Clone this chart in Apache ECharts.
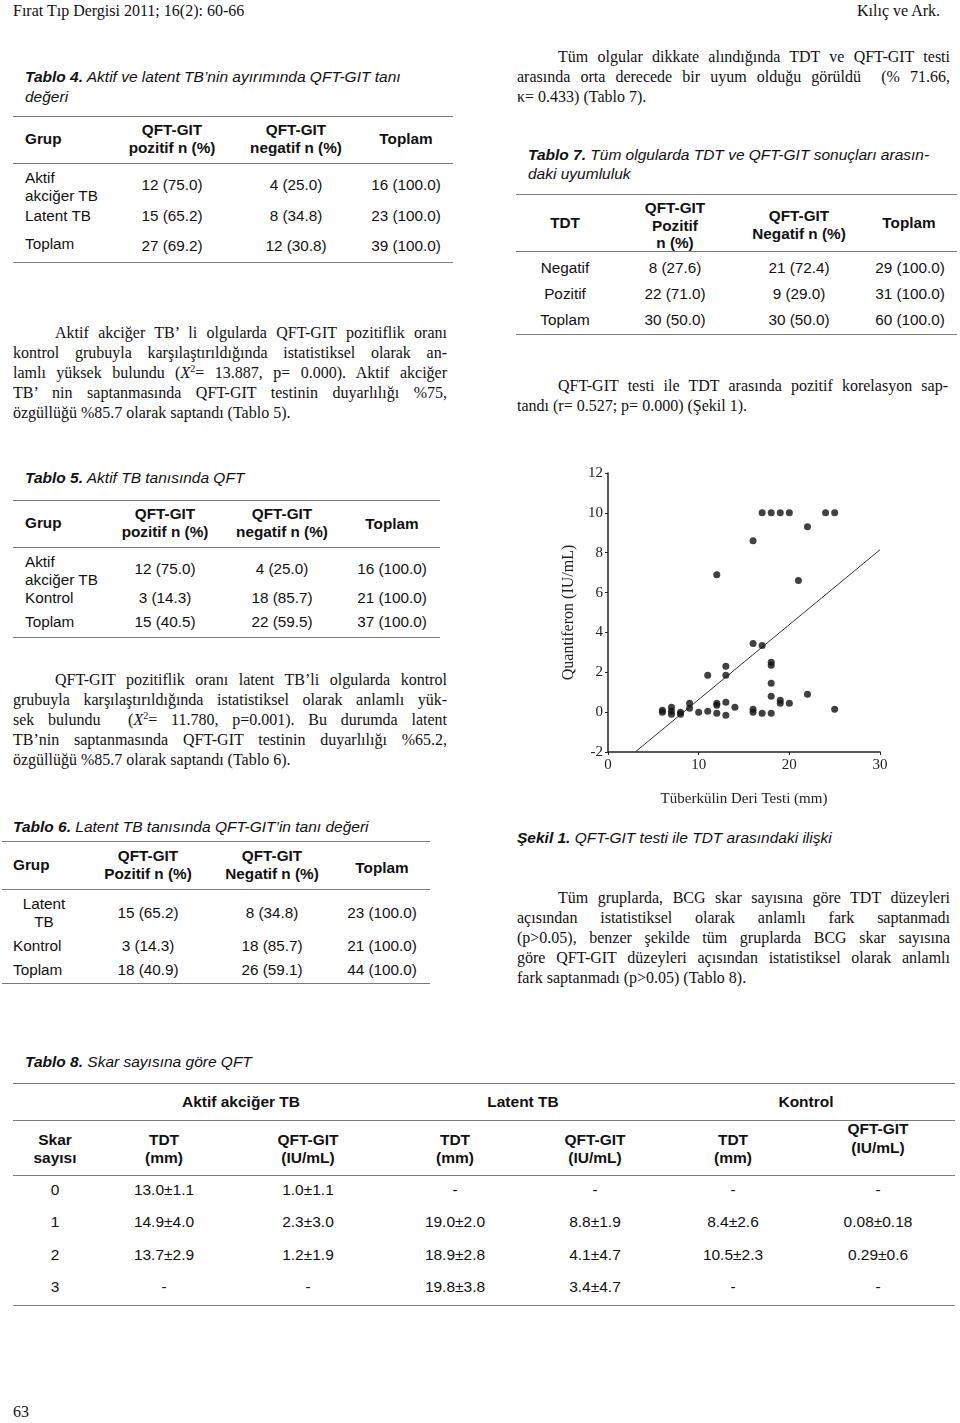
<!DOCTYPE html>
<html>
<head>
<meta charset="utf-8">
<script src="https://cdn.jsdelivr.net/npm/echarts/dist/echarts.min.js"></script>
<style>
  body { margin: 0; background: #fff; }
  #page { position: relative; width: 960px; height: 1423px; background: #fff; overflow: hidden; color: #111; }
  .t { position: absolute; white-space: nowrap; line-height: 1; transform: translateY(-50%); }
  .sans { font-family: "Liberation Sans", Arial, sans-serif; font-size: 15.3px; }
  .cap { font-family: "Liberation Sans", Arial, sans-serif; font-size: 15.5px; font-style: italic; }
  .t8 { font-family: "Liberation Sans", Arial, sans-serif; font-size: 15.5px; }
  .serif { font-family: "Liberation Serif", "Times New Roman", serif; font-size: 16px; }
  .b { font-weight: bold; }
  .rule { position: absolute; height: 0; border-top: 1.5px solid #7a7a7a; }
  .ln { position: absolute; font-family: "Liberation Serif", "Times New Roman", serif; font-size: 16px;
        line-height: 20px; height: 20px; white-space: nowrap; overflow: visible; text-align: justify; }
  .ln.j { text-align-last: justify; white-space: normal; }
  .sup { font-size: 10px; vertical-align: 6px; line-height: 0; }
  #chart { position: absolute; left: 540px; top: 455px; width: 420px; height: 360px; }
</style>
</head>
<body>
<div id="page">
  <div id="chart"></div>
</div>
<script>
// Şekil 1: TDT (mm) vs QFT-GIT (IU/mL)
const tdtMm = [6, 6, 7, 7, 7, 8, 8, 9, 9, 10, 11, 11, 12, 12, 12, 12, 13, 13, 13, 13, 14,
  16, 16, 16, 16, 17, 17, 17, 18, 18, 18, 18, 18, 18, 19, 19, 19, 20, 20, 21, 22, 22, 24, 25, 25]
const qftIU = [0.1, 0.0, 0.25, 0.05, -0.1, 0.0, -0.1, 0.45, 0.2, 0.0, 0.05, 1.85, 0.45, 0.35, -0.05, 6.9, 0.5, -0.15, 2.3, 1.85, 0.25,
  0.15, 0.0, 3.45, 8.6, -0.05, 3.35, 10, -0.05, 0.8, 1.45, 2.35, 2.5, 10, 0.6, 0.45, 10, 0.45, 10, 6.6, 0.9, 9.3, 10, 10, 0.15]
const fitX = [3, 30]
const fitY = [-2, 8.15]
const yTicks = [-2, 0, 2, 4, 6, 8, 10, 12]
const xTicks = [0, 10, 20, 30]

const page = document.getElementById('page')

function T(html, x, y, cls, center) {
  const e = document.createElement('div')
  e.className = 't ' + (cls || '')
  e.innerHTML = html
  e.style.left = x + 'px'
  e.style.top = y + 'px'
  if (center) e.style.transform = 'translate(-50%,-50%)'
  page.appendChild(e)
}
function R(x1, x2, y) {
  const e = document.createElement('div')
  e.className = 'rule'
  e.style.left = x1 + 'px'
  e.style.width = (x2 - x1) + 'px'
  e.style.top = y + 'px'
  page.appendChild(e)
}
// paragraph: each line placed by hand so the breaks match the page
function P(lines, x, w, y0, indent) {
  lines.forEach((s, k) => {
    const e = document.createElement('div')
    e.className = 'ln' + (k < lines.length - 1 ? ' j' : '')
    const ind = k === 0 ? indent : 0
    e.style.left = (x + ind) + 'px'
    e.style.width = (w - ind) + 'px'
    e.style.top = (y0 + k * 20 - 10) + 'px'
    e.innerHTML = s
    page.appendChild(e)
  })
}
const X2 = '<i>X</i><span class="sup">2</span>'

// header
T('Fırat Tıp Dergisi 2011; 16(2): 60-66', 13, 11, 'serif')
T('Kılıç ve Ark.', 857, 11, 'serif')
T('63', 13, 1412, 'serif')

// Tablo 4
T('<b>Tablo 4.</b> Aktif ve latent TB’nin ayırımında QFT-GIT tanı', 25, 77, 'cap')
T('değeri', 25, 97, 'cap')
R(13, 453, 116); R(13, 453, 163); R(13, 453, 262)
T('Grup', 25, 139, 'sans b')
T('QFT-GIT', 172, 130, 'sans b', 1); T('pozitif n (%)', 172, 148, 'sans b', 1)
T('QFT-GIT', 296, 130, 'sans b', 1); T('negatif n (%)', 296, 148, 'sans b', 1)
T('Toplam', 406, 139, 'sans b', 1)
T('Aktif', 25, 178, 'sans'); T('akciğer TB', 25, 196, 'sans')
T('12 (75.0)', 172, 185, 'sans', 1); T('4 (25.0)', 296, 185, 'sans', 1); T('16 (100.0)', 406, 185, 'sans', 1)
T('Latent TB', 25, 216, 'sans')
T('15 (65.2)', 172, 216, 'sans', 1); T('8 (34.8)', 296, 216, 'sans', 1); T('23 (100.0)', 406, 216, 'sans', 1)
T('Toplam', 25, 244, 'sans')
T('27 (69.2)', 172, 246, 'sans', 1); T('12 (30.8)', 296, 246, 'sans', 1); T('39 (100.0)', 406, 246, 'sans', 1)

P(['Aktif akciğer TB’ li olgularda QFT-GIT pozitiflik oranı',
   'kontrol grubuyla karşılaştırıldığında istatistiksel olarak an-',
   'lamlı yüksek bulundu (' + X2 + '= 13.887, p= 0.000). Aktif akciğer',
   'TB’ nin saptanmasında QFT-GIT testinin duyarlılığı %75,',
   'özgüllüğü %85.7 olarak saptandı (Tablo 5).'], 13, 434, 333, 42)

// Tablo 5
T('<b>Tablo 5.</b> Aktif TB tanısında QFT', 25, 478, 'cap')
R(13, 440, 500); R(13, 440, 547); R(13, 440, 637)
T('Grup', 25, 523, 'sans b')
T('QFT-GIT', 165, 514, 'sans b', 1); T('pozitif n (%)', 165, 532, 'sans b', 1)
T('QFT-GIT', 282, 514, 'sans b', 1); T('negatif n (%)', 282, 532, 'sans b', 1)
T('Toplam', 392, 524, 'sans b', 1)
T('Aktif', 25, 562, 'sans'); T('akciğer TB', 25, 580, 'sans')
T('12 (75.0)', 165, 569, 'sans', 1); T('4 (25.0)', 282, 569, 'sans', 1); T('16 (100.0)', 392, 569, 'sans', 1)
T('Kontrol', 25, 598, 'sans')
T('3 (14.3)', 165, 598, 'sans', 1); T('18 (85.7)', 282, 598, 'sans', 1); T('21 (100.0)', 392, 598, 'sans', 1)
T('Toplam', 25, 622, 'sans')
T('15 (40.5)', 165, 622, 'sans', 1); T('22 (59.5)', 282, 622, 'sans', 1); T('37 (100.0)', 392, 622, 'sans', 1)

P(['QFT-GIT pozitiflik oranı latent TB’li olgularda kontrol',
   'grubuyla karşılaştırıldığında istatistiksel olarak anlamlı yük-',
   'sek bulundu &nbsp;(' + X2 + '= 11.780, p=0.001). Bu durumda latent',
   'TB’nin saptanmasında QFT-GIT testinin duyarlılığı %65.2,',
   'özgüllüğü %85.7 olarak saptandı (Tablo 6).'], 13, 434, 680, 42)

// Tablo 6
T('<b>Tablo 6.</b> Latent TB tanısında QFT-GIT’in tanı değeri', 13, 827, 'cap')
R(2, 430, 841); R(2, 430, 889); R(2, 430, 983)
T('Grup', 13, 865, 'sans b')
T('QFT-GIT', 148, 856, 'sans b', 1); T('Pozitif n (%)', 148, 874, 'sans b', 1)
T('QFT-GIT', 272, 856, 'sans b', 1); T('Negatif n (%)', 272, 874, 'sans b', 1)
T('Toplam', 382, 868, 'sans b', 1)
T('Latent', 44, 904, 'sans', 1); T('TB', 44, 922, 'sans', 1)
T('15 (65.2)', 148, 913, 'sans', 1); T('8 (34.8)', 272, 913, 'sans', 1); T('23 (100.0)', 382, 913, 'sans', 1)
T('Kontrol', 13, 946, 'sans')
T('3 (14.3)', 148, 946, 'sans', 1); T('18 (85.7)', 272, 946, 'sans', 1); T('21 (100.0)', 382, 946, 'sans', 1)
T('Toplam', 13, 970, 'sans')
T('18 (40.9)', 148, 970, 'sans', 1); T('26 (59.1)', 272, 970, 'sans', 1); T('44 (100.0)', 382, 970, 'sans', 1)

// right column
P(['Tüm olgular dikkate alındığında TDT ve QFT-GIT testi',
   'arasında orta derecede bir uyum olduğu görüldü &nbsp;(% 71.66,',
   'κ= 0.433) (Tablo 7).'], 517, 433, 57, 41)

// Tablo 7
T('<b>Tablo 7.</b> Tüm olgularda TDT ve QFT-GIT sonuçları arasın-', 528, 155, 'cap')
T('daki uyumluluk', 528, 174, 'cap')
R(516, 957, 194); R(516, 957, 251); R(516, 957, 334)
T('TDT', 565, 223, 'sans b', 1)
T('QFT-GIT', 675, 208, 'sans b', 1); T('Pozitif', 675, 226, 'sans b', 1); T('n (%)', 675, 243, 'sans b', 1)
T('QFT-GIT', 799, 216, 'sans b', 1); T('Negatif n (%)', 799, 234, 'sans b', 1)
T('Toplam', 909, 223, 'sans b', 1)
T('Negatif', 565, 268, 'sans', 1); T('8 (27.6)', 675, 268, 'sans', 1); T('21 (72.4)', 799, 268, 'sans', 1); T('29 (100.0)', 910, 268, 'sans', 1)
T('Pozitif', 565, 294, 'sans', 1); T('22 (71.0)', 675, 294, 'sans', 1); T('9 (29.0)', 799, 294, 'sans', 1); T('31 (100.0)', 910, 294, 'sans', 1)
T('Toplam', 565, 320, 'sans', 1); T('30 (50.0)', 675, 320, 'sans', 1); T('30 (50.0)', 799, 320, 'sans', 1); T('60 (100.0)', 910, 320, 'sans', 1)

P(['QFT-GIT testi ile TDT arasında pozitif korelasyon sap-',
   'tandı (r= 0.527; p= 0.000) (Şekil 1).'], 517, 431, 386, 41)

T('<b>Şekil 1.</b> QFT-GIT testi ile TDT arasındaki ilişki', 517, 838, 'cap')

P(['Tüm gruplarda, BCG skar sayısına göre TDT düzeyleri',
   'açısından istatistiksel olarak anlamlı fark saptanmadı',
   '(p&gt;0.05), benzer şekilde tüm gruplarda BCG skar sayısına',
   'göre QFT-GIT düzeyleri açısından istatistiksel olarak anlamlı',
   'fark saptanmadı (p&gt;0.05) (Tablo 8).'], 517, 433, 898, 41)

// Tablo 8
const t8Cols = [55, 164, 308, 455, 595, 733, 878]
const t8Rows = [
  ['0', '13.0±1.1', '1.0±1.1', '-', '-', '-', '-'],
  ['1', '14.9±4.0', '2.3±3.0', '19.0±2.0', '8.8±1.9', '8.4±2.6', '0.08±0.18'],
  ['2', '13.7±2.9', '1.2±1.9', '18.9±2.8', '4.1±4.7', '10.5±2.3', '0.29±0.6'],
  ['3', '-', '-', '19.8±3.8', '3.4±4.7', '-', '-']
]
const t8RowY = [1190, 1222, 1255, 1287]
T('<b>Tablo 8.</b> Skar sayısına göre QFT', 25, 1062, 'cap')
R(13, 955, 1083); R(13, 955, 1120); R(13, 955, 1175); R(13, 955, 1305)
T('Aktif akciğer TB', 241, 1102, 't8 b', 1)
T('Latent TB', 523, 1102, 't8 b', 1)
T('Kontrol', 806, 1102, 't8 b', 1)
T('Skar', 55, 1140, 't8 b', 1); T('sayısı', 55, 1158, 't8 b', 1)
;[164, 455, 733].forEach(x => { T('TDT', x, 1140, 't8 b', 1); T('(mm)', x, 1158, 't8 b', 1) })
;[308, 595].forEach(x => { T('QFT-GIT', x, 1140, 't8 b', 1); T('(IU/mL)', x, 1158, 't8 b', 1) })
T('QFT-GIT', 878, 1129, 't8 b', 1); T('(IU/mL)', 878, 1148, 't8 b', 1)
t8Rows.forEach((row, r) => row.forEach((v, c) => T(v, t8Cols[c], t8RowY[r], 't8', 1)))

// chart
const serif = '"Liberation Serif", "Times New Roman", serif'
const chart = echarts.init(document.getElementById('chart'))
chart.setOption({
  animation: false,
  grid: { left: 68, top: 18, right: 80, bottom: 63 },
  xAxis: {
    type: 'value', min: 0, max: 30, interval: 10,
    name: 'Tüberkülin Deri Testi (mm)', nameLocation: 'middle', nameGap: 40,
    nameTextStyle: { fontFamily: serif, fontSize: 15, color: '#222' },
    axisLine: { onZero: false, lineStyle: { color: '#222', width: 1.5 } },
    axisTick: { show: true, length: 3, lineStyle: { color: '#222' } },
    axisLabel: { fontFamily: serif, fontSize: 15, color: '#222', margin: 6,
      customValues: xTicks },
    splitLine: { show: false }
  },
  yAxis: {
    type: 'value', min: -2, max: 12, interval: 2,
    name: 'Quantiferon (IU/mL)', nameLocation: 'middle', nameGap: 30, nameRotate: 90,
    nameTextStyle: { fontFamily: serif, fontSize: 16, color: '#222' },
    axisLine: { show: true, onZero: false, lineStyle: { color: '#222', width: 1.5 } },
    axisTick: { show: true, length: 3, lineStyle: { color: '#222' } },
    axisLabel: { fontFamily: serif, fontSize: 15, color: '#222', margin: 5,
      customValues: yTicks },
    splitLine: { show: false }
  },
  series: [
    {
      type: 'line',
      data: fitX.map((x, i) => [x, fitY[i]]),
      showSymbol: false,
      lineStyle: { color: '#333', width: 1 },
      z: 1
    },
    {
      type: 'scatter',
      data: tdtMm.map((x, i) => [x, qftIU[i]]),
      symbol: 'circle',
      symbolSize: 7,
      itemStyle: { color: '#111' },
      z: 2
    }
  ]
})
</script>
</body>
</html>
